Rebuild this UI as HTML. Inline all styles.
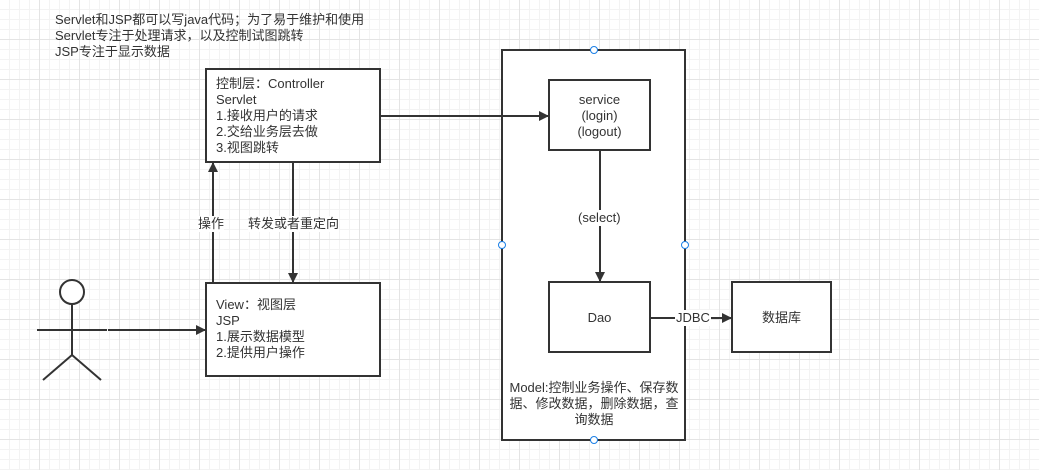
<!DOCTYPE html>
<html><head><meta charset="utf-8"><style>
body{margin:0;width:1039px;height:470px;overflow:hidden;background:#fff;
background-image:linear-gradient(#e4e4e4 1px,transparent 1px),linear-gradient(90deg,#e4e4e4 1px,transparent 1px),linear-gradient(#f3f3f3 1px,transparent 1px),linear-gradient(90deg,#f3f3f3 1px,transparent 1px);
background-size:40px 40px,40px 40px,10px 10px,10px 10px;background-position:-1px -1px;
font-family:"Liberation Sans","Noto Sans CJK SC",sans-serif;color:#333;}
.t{position:absolute;font-size:13px;line-height:16px;white-space:nowrap}
</style></head><body>
<svg width="1039" height="470" style="position:absolute;left:0;top:0">
<defs><marker id="a" markerWidth="10" markerHeight="10" refX="9" refY="5" orient="auto" markerUnits="userSpaceOnUse"><path d="M0,0 L10,5 L0,10 Z" fill="#333"/></marker></defs>
<g stroke="#333" stroke-width="2" fill="#fff">
<rect x="502" y="50" width="183" height="390"/>
<rect x="206" y="69" width="174" height="93"/>
<rect x="206" y="283" width="174" height="93"/>
<rect x="549" y="80" width="101" height="70"/>
<rect x="549" y="282" width="101" height="70"/>
<rect x="732" y="282" width="99" height="70"/>
<circle cx="72" cy="292" r="12"/>
<line x1="72" y1="304" x2="72" y2="355"/>
<line x1="37" y1="330" x2="107" y2="330"/>
<line x1="72" y1="355" x2="43" y2="380"/>
<line x1="72" y1="355" x2="101" y2="380"/>
<line x1="108" y1="330" x2="205" y2="330" marker-end="url(#a)"/>
<line x1="213" y1="283" x2="213" y2="163" marker-end="url(#a)"/>
<line x1="293" y1="162" x2="293" y2="282" marker-end="url(#a)"/>
<line x1="380" y1="116" x2="548" y2="116" marker-end="url(#a)"/>
<line x1="600" y1="150" x2="600" y2="281" marker-end="url(#a)"/>
<line x1="650" y1="318" x2="731" y2="318" marker-end="url(#a)"/>
</g>
<g fill="#fff" stroke="#1a7fe6" stroke-width="1">
<circle cx="594" cy="50" r="3.5"/><circle cx="502" cy="245" r="3.5"/><circle cx="685" cy="245" r="3.5"/><circle cx="594" cy="440" r="3.5"/>
</g>
</svg>
<div class="t" style="left:55px;top:12px">Servlet和JSP都可以写java代码；为了易于维护和使用<br>Servlet专注于处理请求，以及控制试图跳转<br>JSP专注于显示数据</div>
<div class="t" style="left:216px;top:76px">控制层：Controller<br>Servlet<br>1.接收用户的请求<br>2.交给业务层去做<br>3.视图跳转</div>
<div class="t" style="left:216px;top:297px">View：视图层<br>JSP<br>1.展示数据模型<br>2.提供用户操作</div>
<div class="t" style="left:549px;width:101px;text-align:center;top:92px">service<br>(login)<br>(logout)</div>
<div class="t" style="left:549px;width:101px;text-align:center;top:310px">Dao</div>
<div class="t" style="left:732px;width:99px;text-align:center;top:310px">数据库</div>
<div class="t" style="left:576px;top:210px;background:#fff;padding:0 2px">(select)</div>
<div class="t" style="left:675px;top:310px;background:#fff;padding:0 1px">JDBC</div>
<div class="t" style="left:198px;top:216px;background:#fff">操作</div>
<div class="t" style="left:248px;top:216px;background:#fff">转发或者重定向</div>
<div class="t" style="left:506px;width:176px;text-align:center;top:380px;white-space:normal">Model:控制业务操作、保存数据、修改数据，删除数据，查询数据</div>
</body></html>
